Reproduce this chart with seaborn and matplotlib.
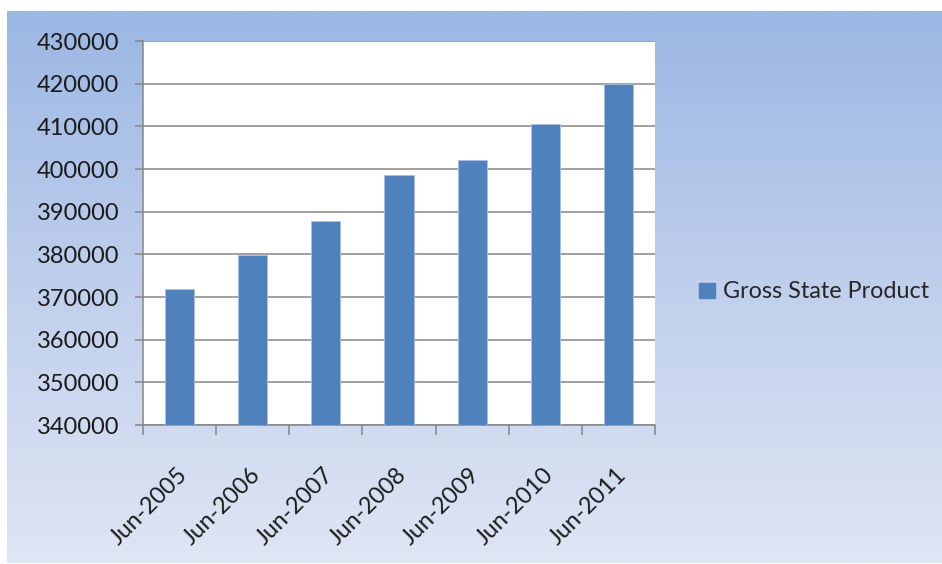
import numpy as np
import pandas as pd
import matplotlib
matplotlib.use("Agg")
import matplotlib.pyplot as plt
import matplotlib.patches as mpatches
import matplotlib.transforms as mtransforms
from matplotlib.colors import LinearSegmentedColormap
import seaborn as sns

# data
periods = ['Jun-2005', 'Jun-2006', 'Jun-2007', 'Jun-2008', 'Jun-2009', 'Jun-2010', 'Jun-2011']
gsp = [371900, 379900, 387700, 398700, 402000, 410600, 419900]
series_name = 'Gross State Product'

df = pd.DataFrame({'period': periods, 'gsp': gsp})

sns.set_style("white")
plt.rcParams['font.family'] = ['Lato', 'DejaVu Sans']

W, H = 942, 564
fig = plt.figure(figsize=(W / 100, H / 100), dpi=100)
fig.patch.set_facecolor('white')

# blue gradient chart area behind everything
bg = fig.add_axes([7 / W, 1 / H, (W - 7) / W, (H - 12) / H], zorder=-10)
grad_cmap = LinearSegmentedColormap.from_list(
    'bg', [(155 / 255, 183 / 255, 228 / 255), (192 / 255, 207 / 255, 236 / 255), (223 / 255, 230 / 255, 244 / 255)])
bg.imshow(np.linspace(0, 1, 256).reshape(-1, 1), aspect='auto', cmap=grad_cmap, extent=[0, 1, 0, 1])
bg.set_axis_off()

ax = fig.add_axes([143 / W, 1 - 425 / H, (655 - 143) / W, (425 - 41) / H])
ax.set_facecolor('white')

sns.barplot(x='period', y='gsp', data=df, color='#4F81BD', width=0.4, saturation=1,
            edgecolor='#A9C1E2', linewidth=0.6, ax=ax, zorder=3)

ax.set_ylim(340000, 430000)
ax.set_xlim(-0.5, len(periods) - 0.5)
ax.set_yticks(np.arange(340000, 430001, 10000))
ax.set_yticklabels([str(v) for v in range(340000, 430001, 10000)])
ax.yaxis.grid(True, color='#868686', linewidth=1.1, zorder=0)
ax.set_axisbelow(True)
ax.set_xlabel('')
ax.set_ylabel('')

# ticks at category boundaries, labels at centres
ax.set_xticks(np.arange(-0.5, len(periods), 1.0), minor=True)
ax.tick_params(axis='x', which='minor', length=7, width=1.1, color='#868686', direction='out')
ax.tick_params(axis='x', which='major', length=0, pad=28, labelsize=16.8, labelcolor='#1a1a1a')
ax.set_xticks(range(len(periods)))
ax.set_xticklabels(periods, rotation=45, ha='right', rotation_mode='anchor')
ax.tick_params(axis='y', length=6, width=1.1, color='#868686', direction='out', pad=11,
               labelsize=17, labelcolor='#1a1a1a')
ax.tick_params(left=True, bottom=False)
ax.tick_params(axis='x', which='minor', bottom=True)

# nudge rotated labels slightly left, like the original
shift = mtransforms.ScaledTranslation(-3 / 100, 0, fig.dpi_scale_trans)
for lbl in ax.get_xticklabels():
    lbl.set_transform(lbl.get_transform() + shift)

for side in ['top', 'right']:
    ax.spines[side].set_visible(False)
for side in ['left', 'bottom']:
    ax.spines[side].set_color('#868686')
    ax.spines[side].set_linewidth(1.1)

handle = mpatches.Patch(color='#4F81BD', label=series_name)
fig.legend(handles=[handle], loc='center left', bbox_to_anchor=(690 / W, 1 - 292 / H),
           frameon=False, fontsize=16.8, handlelength=0.65, handleheight=0.65, handletextpad=0.35,
           borderaxespad=0)

fig.savefig('out.png', dpi=100)
